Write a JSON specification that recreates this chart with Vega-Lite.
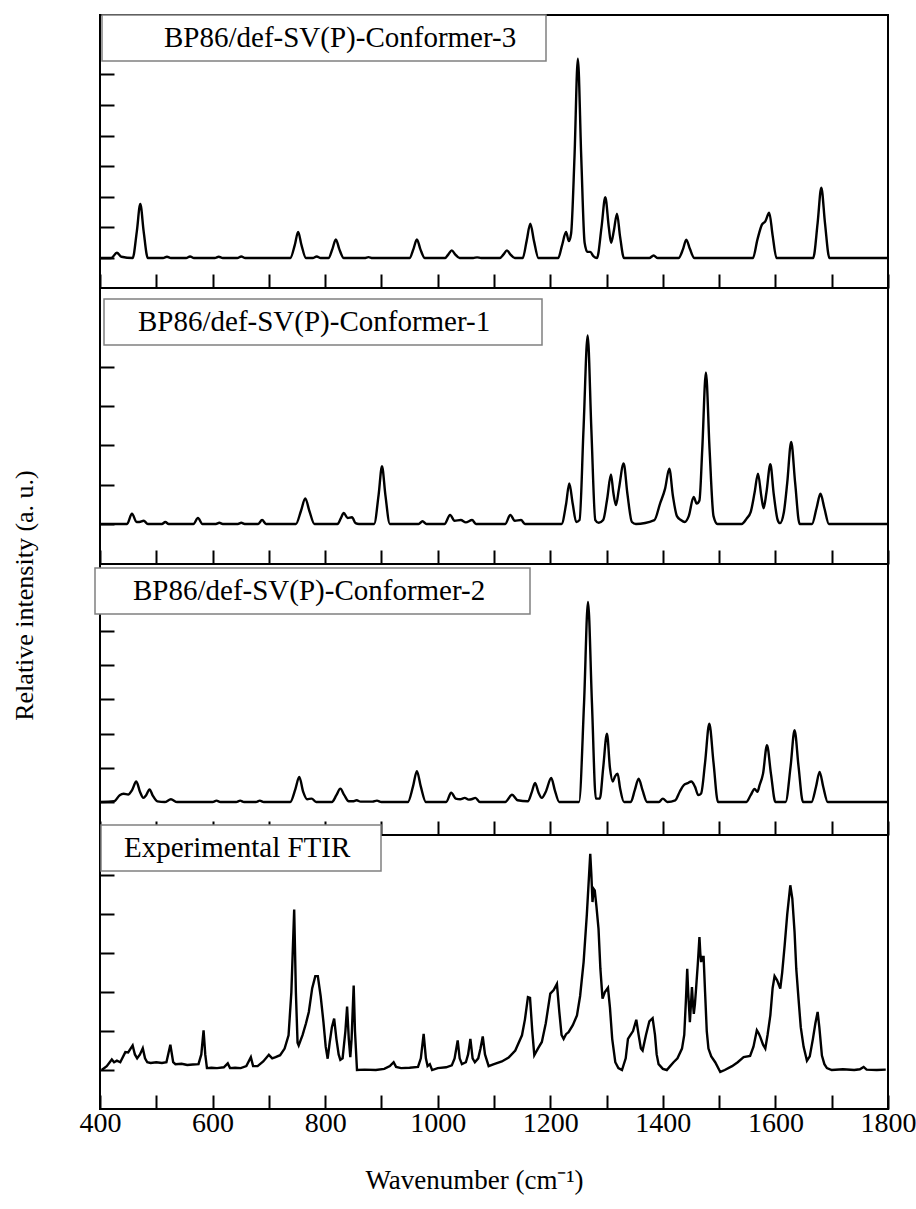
{
  "$schema": "https://vega.github.io/schema/vega-lite/v6.json",
  "padding": {"left": 9, "top": 13, "right": 5, "bottom": 5},
  "spacing": 0,
  "bounds": "flush",
  "background": "white",
  "config": {
    "font": "Liberation Serif",
    "view": {"stroke": "black", "strokeWidth": 2},
    "axis": {"grid": false, "domain": false, "tickColor": "black", "tickWidth": 2, "labelFont": "Liberation Serif", "titleFont": "Liberation Serif", "labelColor": "black", "titleColor": "black", "titleFontWeight": "normal", "labelFlush": false},
    "legend": {"strokeColor": "#808080", "strokeWidth": 1.5, "fillColor": "white", "padding": 8, "labelFont": "Liberation Serif", "labelFontSize": 29, "labelColor": "black", "labelLimit": 2000, "symbolOpacity": 0, "symbolStrokeWidth": 0, "symbolSize": 100, "title": null}
  },
  "resolve": {"scale": {"color": "independent", "y": "independent"}, "legend": {"color": "independent"}},
  "datasets": {
    "c3": [{"x":400,"y":0},{"x":420,"y":0},{"x":430,"y":0.17},{"x":438,"y":0.04},{"x":458,"y":0},{"x":465.5,"y":0.88},{"x":471.6,"y":1.77},{"x":477.5,"y":0.88},{"x":485,"y":0},{"x":512,"y":0},{"x":519,"y":0.04},{"x":526,"y":0},{"x":553,"y":0},{"x":560,"y":0.05},{"x":567,"y":0},{"x":604,"y":0},{"x":611,"y":0.04},{"x":618,"y":0},{"x":644,"y":0},{"x":651,"y":0.05},{"x":658,"y":0},{"x":738,"y":0},{"x":746,"y":0.42},{"x":752,"y":0.85},{"x":758,"y":0.42},{"x":766,"y":0},{"x":778,"y":0},{"x":785,"y":0.05},{"x":792,"y":0},{"x":806,"y":0},{"x":813,"y":0.3},{"x":819,"y":0.61},{"x":825,"y":0.3},{"x":833,"y":0},{"x":870,"y":0},{"x":877,"y":0.03},{"x":884,"y":0},{"x":950,"y":0},{"x":957,"y":0.3},{"x":963,"y":0.61},{"x":969,"y":0.3},{"x":977,"y":0},{"x":1013,"y":0},{"x":1019,"y":0.12},{"x":1025,"y":0.25},{"x":1031,"y":0.12},{"x":1039,"y":0},{"x":1063,"y":0},{"x":1070,"y":0.02},{"x":1077,"y":0},{"x":1110,"y":0},{"x":1117,"y":0.12},{"x":1123,"y":0.25},{"x":1129,"y":0.12},{"x":1137,"y":0},{"x":1151,"y":0},{"x":1158,"y":0.56},{"x":1164.5,"y":1.12},{"x":1171,"y":0.56},{"x":1179,"y":0},{"x":1214,"y":0},{"x":1221,"y":0.42},{"x":1228,"y":0.85},{"x":1233,"y":0.55},{"x":1237,"y":0.8},{"x":1243,"y":3.3},{"x":1249,"y":6.51},{"x":1255,"y":3.3},{"x":1261,"y":0.5},{"x":1266,"y":0.2},{"x":1271,"y":0.2},{"x":1277,"y":0.05},{"x":1283,"y":0},{"x":1291,"y":1.0},{"x":1297.7,"y":1.99},{"x":1304,"y":1.0},{"x":1308,"y":0.5},{"x":1313,"y":0.9},{"x":1318.5,"y":1.45},{"x":1324,"y":0.7},{"x":1331,"y":0},{"x":1376,"y":0},{"x":1383.6,"y":0.08},{"x":1391,"y":0},{"x":1428,"y":0},{"x":1436,"y":0.3},{"x":1441.6,"y":0.6},{"x":1448,"y":0.3},{"x":1456,"y":0},{"x":1560,"y":0},{"x":1568,"y":0.6},{"x":1576,"y":1.09},{"x":1582,"y":1.2},{"x":1589,"y":1.48},{"x":1595,"y":0.74},{"x":1602,"y":0},{"x":1667,"y":0},{"x":1675,"y":1.15},{"x":1681.5,"y":2.3},{"x":1688,"y":1.15},{"x":1696,"y":0},{"x":1800,"y":0}],
    "c1": [{"x":400,"y":0},{"x":448,"y":0},{"x":456.8,"y":0.26},{"x":465,"y":0.05},{"x":470,"y":0.05},{"x":477.6,"y":0.08},{"x":485,"y":0},{"x":510,"y":0},{"x":516,"y":0.05},{"x":522,"y":0},{"x":566,"y":0},{"x":574,"y":0.15},{"x":582,"y":0},{"x":606,"y":0},{"x":612,"y":0.03},{"x":618,"y":0},{"x":645,"y":0},{"x":651,"y":0.03},{"x":657,"y":0},{"x":681,"y":0},{"x":688,"y":0.1},{"x":695,"y":0},{"x":748,"y":0},{"x":757,"y":0.33},{"x":764.7,"y":0.65},{"x":772,"y":0.33},{"x":781,"y":0},{"x":822,"y":0},{"x":828,"y":0.15},{"x":833,"y":0.28},{"x":840,"y":0.15},{"x":847.7,"y":0.17},{"x":854,"y":0.02},{"x":860,"y":0},{"x":887,"y":0},{"x":895,"y":0.74},{"x":901,"y":1.47},{"x":907,"y":0.74},{"x":915,"y":0},{"x":966,"y":0},{"x":973,"y":0.07},{"x":980,"y":0},{"x":1012,"y":0},{"x":1022,"y":0.23},{"x":1030,"y":0.08},{"x":1041,"y":0.1},{"x":1050,"y":0.04},{"x":1061,"y":0.1},{"x":1068,"y":0},{"x":1120,"y":0},{"x":1129,"y":0.23},{"x":1137,"y":0.08},{"x":1148,"y":0.1},{"x":1155,"y":0},{"x":1220,"y":0},{"x":1228,"y":0.5},{"x":1233.7,"y":1.03},{"x":1240,"y":0.5},{"x":1246,"y":0.05},{"x":1252,"y":0.1},{"x":1259,"y":2.4},{"x":1266.4,"y":4.8},{"x":1273,"y":2.4},{"x":1280,"y":0.1},{"x":1286,"y":0.03},{"x":1294,"y":0.1},{"x":1301,"y":0.63},{"x":1307.8,"y":1.26},{"x":1312,"y":0.8},{"x":1316.7,"y":0.48},{"x":1322,"y":0.9},{"x":1330.3,"y":1.54},{"x":1337,"y":0.77},{"x":1345,"y":0.05},{"x":1352,"y":0},{"x":1385,"y":0.1},{"x":1395,"y":0.52},{"x":1404,"y":0.9},{"x":1411.4,"y":1.41},{"x":1418,"y":0.7},{"x":1425,"y":0.2},{"x":1432,"y":0.1},{"x":1439,"y":0.05},{"x":1446,"y":0.2},{"x":1454.7,"y":0.69},{"x":1460,"y":0.52},{"x":1465,"y":0.6},{"x":1470,"y":1.9},{"x":1476.5,"y":3.86},{"x":1483,"y":1.9},{"x":1490,"y":0.2},{"x":1497,"y":0},{"x":1540,"y":0},{"x":1549,"y":0.14},{"x":1556,"y":0.3},{"x":1563,"y":0.8},{"x":1569,"y":1.28},{"x":1575,"y":0.7},{"x":1579,"y":0.4},{"x":1584,"y":0.8},{"x":1591,"y":1.52},{"x":1597,"y":0.76},{"x":1604,"y":0.1},{"x":1608,"y":0.02},{"x":1615,"y":0.3},{"x":1621,"y":1.05},{"x":1628,"y":2.09},{"x":1635,"y":1.05},{"x":1643,"y":0},{"x":1665,"y":0},{"x":1673,"y":0.4},{"x":1680,"y":0.77},{"x":1687,"y":0.4},{"x":1695,"y":0},{"x":1800,"y":0}],
    "c2": [{"x":400,"y":0},{"x":425,"y":0.02},{"x":435,"y":0.2},{"x":442,"y":0.24},{"x":450,"y":0.22},{"x":457,"y":0.35},{"x":464.5,"y":0.6},{"x":471,"y":0.3},{"x":477,"y":0.12},{"x":482,"y":0.2},{"x":488,"y":0.37},{"x":494,"y":0.18},{"x":502,"y":0.02},{"x":515,"y":0},{"x":526,"y":0.08},{"x":537,"y":0},{"x":600,"y":0},{"x":607,"y":0.04},{"x":614,"y":0},{"x":642,"y":0},{"x":649,"y":0.04},{"x":656,"y":0},{"x":677,"y":0},{"x":684,"y":0.04},{"x":691,"y":0},{"x":738,"y":0},{"x":747,"y":0.37},{"x":754,"y":0.73},{"x":761,"y":0.3},{"x":768,"y":0.08},{"x":776,"y":0.1},{"x":784,"y":0},{"x":812,"y":0},{"x":820,"y":0.2},{"x":827,"y":0.39},{"x":834,"y":0.2},{"x":842,"y":0.02},{"x":849,"y":0.02},{"x":856,"y":0.05},{"x":863,"y":0.01},{"x":884,"y":0.01},{"x":892,"y":0.04},{"x":900,"y":0},{"x":947,"y":0},{"x":956,"y":0.45},{"x":963,"y":0.9},{"x":970,"y":0.45},{"x":979,"y":0},{"x":1015,"y":0},{"x":1024,"y":0.27},{"x":1032,"y":0.1},{"x":1040,"y":0.08},{"x":1048,"y":0.12},{"x":1055,"y":0.07},{"x":1060,"y":0.08},{"x":1067,"y":0.12},{"x":1075,"y":0},{"x":1120,"y":0},{"x":1132,"y":0.21},{"x":1142,"y":0.05},{"x":1160,"y":0.02},{"x":1167,"y":0.28},{"x":1173,"y":0.56},{"x":1179,"y":0.28},{"x":1185,"y":0.12},{"x":1192,"y":0.3},{"x":1201.7,"y":0.7},{"x":1208,"y":0.35},{"x":1216,"y":0},{"x":1251,"y":0},{"x":1260,"y":2.9},{"x":1267,"y":5.85},{"x":1274,"y":2.9},{"x":1281,"y":0.1},{"x":1288,"y":0.1},{"x":1294,"y":1.0},{"x":1300.7,"y":2.0},{"x":1306,"y":1.0},{"x":1311,"y":0.6},{"x":1315,"y":0.75},{"x":1319.6,"y":0.83},{"x":1324,"y":0.4},{"x":1331,"y":0},{"x":1343,"y":0},{"x":1350,"y":0.34},{"x":1357,"y":0.68},{"x":1364,"y":0.34},{"x":1372,"y":0},{"x":1393,"y":0},{"x":1400,"y":0.1},{"x":1408,"y":0},{"x":1422,"y":0.05},{"x":1430,"y":0.3},{"x":1437,"y":0.49},{"x":1444,"y":0.55},{"x":1450.5,"y":0.6},{"x":1457,"y":0.45},{"x":1463,"y":0.2},{"x":1468,"y":0.25},{"x":1475,"y":1.15},{"x":1482.5,"y":2.29},{"x":1490,"y":1.15},{"x":1498,"y":0},{"x":1548,"y":0},{"x":1556,"y":0.2},{"x":1563,"y":0.38},{"x":1568,"y":0.3},{"x":1572,"y":0.5},{"x":1578,"y":0.83},{"x":1585,"y":1.66},{"x":1592,"y":0.83},{"x":1600,"y":0},{"x":1618,"y":0},{"x":1627,"y":1.05},{"x":1634,"y":2.1},{"x":1641,"y":1.05},{"x":1649,"y":0},{"x":1664,"y":0},{"x":1672,"y":0.44},{"x":1678.5,"y":0.88},{"x":1685,"y":0.44},{"x":1693,"y":0},{"x":1800,"y":0}],
    "ex": [{"x":403,"y":0},{"x":412,"y":0.1},{"x":421,"y":0.27},{"x":425,"y":0.2},{"x":430,"y":0.24},{"x":436,"y":0.2},{"x":445,"y":0.46},{"x":450,"y":0.45},{"x":458,"y":0.63},{"x":462,"y":0.4},{"x":466,"y":0.3},{"x":471,"y":0.4},{"x":476,"y":0.56},{"x":480,"y":0.3},{"x":484,"y":0.2},{"x":490,"y":0.18},{"x":500,"y":0.2},{"x":510,"y":0.18},{"x":518,"y":0.2},{"x":525,"y":0.65},{"x":530,"y":0.2},{"x":534,"y":0.15},{"x":545,"y":0.16},{"x":555,"y":0.13},{"x":565,"y":0.14},{"x":575,"y":0.15},{"x":580,"y":0.4},{"x":584,"y":1.02},{"x":587,"y":0.4},{"x":590,"y":0.05},{"x":598,"y":0.06},{"x":608,"y":0.05},{"x":620,"y":0.07},{"x":627,"y":0.17},{"x":631,"y":0.05},{"x":640,"y":0.06},{"x":650,"y":0.05},{"x":660,"y":0.1},{"x":668,"y":0.33},{"x":672,"y":0.1},{"x":680,"y":0.1},{"x":690,"y":0.22},{"x":700,"y":0.39},{"x":706,"y":0.3},{"x":712,"y":0.33},{"x":720,"y":0.38},{"x":728,"y":0.55},{"x":735,"y":0.89},{"x":740,"y":2.0},{"x":745,"y":4.12},{"x":748,"y":2.0},{"x":751,"y":0.7},{"x":753,"y":0.63},{"x":760,"y":0.9},{"x":766,"y":1.2},{"x":771,"y":1.49},{"x":777,"y":2.1},{"x":782.5,"y":2.41},{"x":787,"y":2.41},{"x":792,"y":1.9},{"x":797,"y":1.23},{"x":801,"y":0.6},{"x":804.5,"y":0.29},{"x":808,"y":0.7},{"x":812,"y":1.1},{"x":816,"y":1.32},{"x":820,"y":0.8},{"x":824,"y":0.4},{"x":827,"y":0.26},{"x":831,"y":0.3},{"x":836,"y":1.0},{"x":839,"y":1.63},{"x":842,"y":0.8},{"x":844.7,"y":0.33},{"x":847,"y":0.8},{"x":850.7,"y":2.17},{"x":853,"y":1.0},{"x":856.6,"y":0},{"x":870,"y":0.01},{"x":890,"y":0},{"x":905,"y":0.03},{"x":915,"y":0.1},{"x":921.7,"y":0.2},{"x":926,"y":0.08},{"x":935,"y":0.05},{"x":950,"y":0.06},{"x":965,"y":0.08},{"x":970,"y":0.3},{"x":975,"y":0.93},{"x":979,"y":0.3},{"x":982,"y":0.1},{"x":986,"y":0.15},{"x":990,"y":0},{"x":1000,"y":0.05},{"x":1015,"y":0.07},{"x":1025,"y":0.12},{"x":1030,"y":0.3},{"x":1035.5,"y":0.76},{"x":1039,"y":0.3},{"x":1043,"y":0.15},{"x":1050,"y":0.2},{"x":1054,"y":0.4},{"x":1058,"y":0.8},{"x":1062,"y":0.3},{"x":1066,"y":0.2},{"x":1072,"y":0.3},{"x":1076,"y":0.55},{"x":1080,"y":0.86},{"x":1084,"y":0.4},{"x":1090.5,"y":0.1},{"x":1100,"y":0.15},{"x":1114,"y":0.22},{"x":1126,"y":0.32},{"x":1137.8,"y":0.5},{"x":1149.7,"y":0.89},{"x":1155,"y":1.3},{"x":1160.3,"y":1.87},{"x":1164,"y":1.85},{"x":1168,"y":1.0},{"x":1171.6,"y":0.38},{"x":1178,"y":0.55},{"x":1185,"y":0.72},{"x":1192,"y":1.2},{"x":1200,"y":1.96},{"x":1206,"y":2.05},{"x":1211.8,"y":2.21},{"x":1216,"y":1.5},{"x":1220,"y":0.9},{"x":1223.7,"y":0.8},{"x":1228,"y":0.92},{"x":1232.5,"y":0.97},{"x":1240,"y":1.15},{"x":1247.4,"y":1.4},{"x":1253,"y":1.9},{"x":1259.2,"y":2.77},{"x":1265,"y":4.0},{"x":1271,"y":5.55},{"x":1273,"y":5.0},{"x":1275,"y":4.31},{"x":1277,"y":4.65},{"x":1279,"y":4.61},{"x":1282,"y":4.2},{"x":1285.7,"y":3.62},{"x":1289,"y":2.6},{"x":1292.8,"y":1.83},{"x":1297,"y":2.0},{"x":1302.5,"y":2.11},{"x":1306,"y":1.6},{"x":1310,"y":0.8},{"x":1315.5,"y":0.2},{"x":1321,"y":0.05},{"x":1327.4,"y":0},{"x":1334,"y":0.3},{"x":1338,"y":0.8},{"x":1342,"y":0.89},{"x":1347,"y":1.0},{"x":1352.8,"y":1.29},{"x":1357,"y":0.9},{"x":1361,"y":0.55},{"x":1364,"y":0.5},{"x":1370,"y":0.9},{"x":1376,"y":1.25},{"x":1381.8,"y":1.33},{"x":1386,"y":0.9},{"x":1389,"y":0.4},{"x":1392.4,"y":0.15},{"x":1400,"y":0.03},{"x":1407,"y":0},{"x":1413,"y":0.1},{"x":1419,"y":0.2},{"x":1426,"y":0.3},{"x":1434,"y":0.55},{"x":1438,"y":0.9},{"x":1441,"y":1.8},{"x":1443.3,"y":2.6},{"x":1445,"y":2.0},{"x":1448,"y":1.23},{"x":1450,"y":1.7},{"x":1451.7,"y":2.13},{"x":1453,"y":1.8},{"x":1455,"y":1.44},{"x":1457,"y":1.7},{"x":1459,"y":2.09},{"x":1462,"y":2.7},{"x":1465,"y":3.41},{"x":1466.5,"y":3.0},{"x":1468,"y":2.77},{"x":1470,"y":2.9},{"x":1472.4,"y":2.9},{"x":1475,"y":2.0},{"x":1478,"y":1.0},{"x":1481,"y":0.55},{"x":1486,"y":0.35},{"x":1493,"y":0.2},{"x":1502,"y":-0.05},{"x":1510,"y":0},{"x":1523,"y":0.1},{"x":1533,"y":0.2},{"x":1543.5,"y":0.33},{"x":1555,"y":0.36},{"x":1561,"y":0.6},{"x":1567,"y":1.02},{"x":1570,"y":0.95},{"x":1573,"y":0.85},{"x":1578,"y":0.65},{"x":1582,"y":0.55},{"x":1586,"y":0.9},{"x":1591,"y":1.41},{"x":1595,"y":2.1},{"x":1598.5,"y":2.41},{"x":1603,"y":2.3},{"x":1608.6,"y":2.09},{"x":1612,"y":2.5},{"x":1616.4,"y":3.2},{"x":1621,"y":4.0},{"x":1626.4,"y":4.74},{"x":1630,"y":4.4},{"x":1634,"y":3.54},{"x":1637,"y":2.6},{"x":1641,"y":1.83},{"x":1645,"y":1.1},{"x":1650,"y":0.6},{"x":1656,"y":0.24},{"x":1661,"y":0.35},{"x":1666.6,"y":0.8},{"x":1671,"y":1.2},{"x":1675,"y":1.49},{"x":1678,"y":1.1},{"x":1682.6,"y":0.37},{"x":1687,"y":0.15},{"x":1691.5,"y":0.05},{"x":1700,"y":0},{"x":1720,"y":0.02},{"x":1740,"y":0},{"x":1750,"y":0.02},{"x":1756.7,"y":0.08},{"x":1762,"y":0.01},{"x":1780,"y":0},{"x":1796,"y":0.01}]
  },
  "vconcat": [
    {
      "width": 788, "height": 273,
      "data": {"name": "c3"},
      "mark": {"type": "line", "interpolate": "monotone", "strokeWidth": 2.4},
      "encoding": {
        "x": {"field": "x", "type": "quantitative", "scale": {"domain": [400, 1800], "nice": false, "zero": false},
              "axis": {"values": [400,500,600,700,800,900,1000,1100,1200,1300,1400,1500,1600,1700,1800], "labels": false, "title": null, "tickSize": -14,
                       "encode": {"ticks": {"update": {"y2": {"signal": "datum.value % 200 === 0 ? -14 : -8"}}}}}},
        "y": {"field": "y", "type": "quantitative", "scale": {"domain": [-0.98, 7.94], "nice": false, "zero": false},
              "axis": {"values": [0,1,2,3,4,5,6], "labels": false, "title": null, "tickSize": -14}},
        "color": {"datum": "BP86/def-SV(P)-Conformer-3", "type": "nominal", "scale": {"range": ["black"]},
                  "legend": {"orient": "none", "legendX": 2, "legendY": 0, "labelOffset": 25, "labelFont": "Liberation Serif", "labelExpr": "datum.label + '\u00a0\u00a0\u00a0\u200b'"}}
      }
    },
    {
      "width": 788, "height": 276,
      "data": {"name": "c1"},
      "mark": {"type": "line", "interpolate": "monotone", "strokeWidth": 2.4},
      "encoding": {
        "x": {"field": "x", "type": "quantitative", "scale": {"domain": [400, 1800], "nice": false, "zero": false},
              "axis": {"values": [400,500,600,700,800,900,1000,1100,1200,1300,1400,1500,1600,1700,1800], "labels": false, "title": null, "tickSize": -14,
                       "encode": {"ticks": {"update": {"y2": {"signal": "datum.value % 200 === 0 ? -14 : -8"}}}}}},
        "y": {"field": "y", "type": "quantitative", "scale": {"domain": [-1.02, 6.01], "nice": false, "zero": false},
              "axis": {"values": [0,1,2,3,4], "labels": false, "title": null, "tickSize": -14}},
        "color": {"datum": "BP86/def-SV(P)-Conformer-1", "type": "nominal", "scale": {"range": ["black"]},
                  "legend": {"orient": "none", "legendX": 4, "legendY": 11, "labelOffset": -3, "labelFont": "Liberation Serif", "labelExpr": "datum.label + '\u00a0\u00a0\u00a0\u00a0\u00a0\u00a0\u200b'"}}
      }
    },
    {
      "width": 788, "height": 271,
      "data": {"name": "c2"},
      "mark": {"type": "line", "interpolate": "monotone", "strokeWidth": 2.4},
      "encoding": {
        "x": {"field": "x", "type": "quantitative", "scale": {"domain": [400, 1800], "nice": false, "zero": false},
              "axis": {"values": [400,500,600,700,800,900,1000,1100,1200,1300,1400,1500,1600,1700,1800], "labels": false, "title": null, "tickSize": -14,
                       "encode": {"ticks": {"update": {"y2": {"signal": "datum.value % 200 === 0 ? -14 : -8"}}}}}},
        "y": {"field": "y", "type": "quantitative", "scale": {"domain": [-0.965, 6.96], "nice": false, "zero": false},
              "axis": {"values": [0,1,2,3,4,5], "labels": false, "tickSize": -14,
                       "title": "Relative intensity (a. u.)", "titleFont": "Liberation Serif", "titleFontSize": 26, "titleX": -76, "titleY": 31, "titleAngle": -90, "titleAlign": "center", "titleBaseline": "middle"}},
        "color": {"datum": "BP86/def-SV(P)-Conformer-2", "type": "nominal", "scale": {"range": ["black"]},
                  "legend": {"orient": "none", "legendX": -5, "legendY": 4, "labelOffset": 1, "labelFont": "Liberation Serif", "labelExpr": "datum.label + '\u00a0\u00a0\u00a0\u00a0\u00a0\u200b'"}}
      }
    },
    {
      "width": 788, "height": 274,
      "data": {"name": "ex"},
      "mark": {"type": "line", "interpolate": "linear", "strokeWidth": 2.4},
      "encoding": {
        "x": {"field": "x", "type": "quantitative", "scale": {"domain": [400, 1800], "nice": false, "zero": false},
              "axis": {"values": [400,500,600,700,800,900,1000,1100,1200,1300,1400,1500,1600,1700,1800], "tickSize": -14, "format": "d",
                       "labelExpr": "datum.value % 200 === 0 ? datum.label : ''", "labelFont": "Liberation Serif", "labelFontSize": 28, "labelPadding": 14, "labelFlush": false,
                       "title": "Wavenumber (cm⁻¹)", "titleFont": "Liberation Serif", "titleFontSize": 27, "titlePadding": 30, "titleX": 374, "titleAlign": "center",
                       "encode": {"ticks": {"update": {"y2": {"signal": "datum.value % 200 === 0 ? -14 : -8"}}}}}},
        "y": {"field": "y", "type": "quantitative", "scale": {"domain": [-1.0, 6.03], "nice": false, "zero": false},
              "axis": {"values": [0,1,2,3,4,5], "labels": false, "title": null, "tickSize": -14}},
        "color": {"datum": "Experimental FTIR", "type": "nominal", "scale": {"range": ["black"]},
                  "legend": {"orient": "none", "legendX": 1, "legendY": -10, "labelOffset": -14, "labelFont": "Liberation Serif", "labelExpr": "datum.label + '\u00a0\u00a0\u00a0\u200b'"}}
      }
    }
  ]
}
